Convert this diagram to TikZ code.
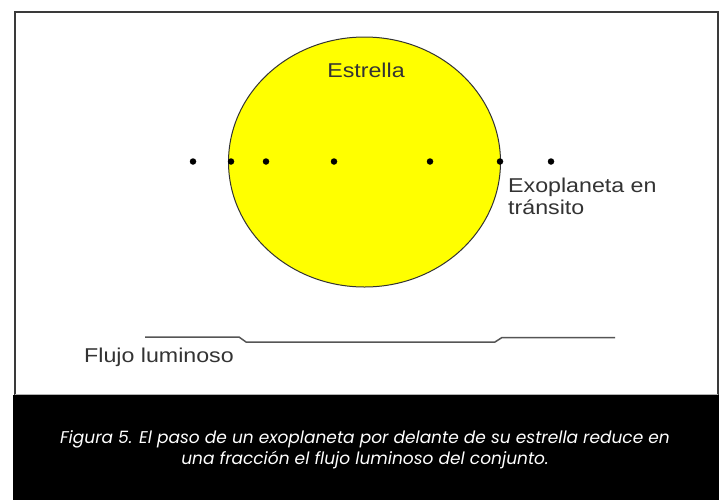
\documentclass[tikz,border=0pt]{standalone}
\usepackage{fontspec}
\setmainfont{Liberation Sans}
\newfontfamily\capfont{Poppins}
\definecolor{labelgray}{HTML}{333333}
\definecolor{framegray}{HTML}{3A3A3A}
\definecolor{fluxgray}{HTML}{555555}
\definecolor{staryellow}{RGB}{255,255,0}
\begin{document}
\begin{tikzpicture}[x=1pt,y=-1pt,
  lbl/.style={inner sep=0pt,text=labelgray,font=\fontsize{20}{22}\selectfont},
  planet/.style={circle,fill=black,inner sep=0pt,minimum size=6.5pt},
  captext/.style={inner sep=0pt,text=white,font=\capfont\itshape\fontsize{17}{21}\selectfont}]
\useasboundingbox (0,0) rectangle (725,501);
\fill[white] (0,0) rectangle (725,501);
% frame
\draw[framegray,line width=2pt] (15,395) -- (15,12) -- (717.5,12) -- (717.5,395);
\draw[gray!60,line width=0.8pt] (15,394.5) -- (717.5,394.5);
% caption band
\fill[black] (13,395) rectangle (719,500);
% star
\draw[fill=staryellow,draw=labelgray,line width=1pt] (364.5,162) ellipse [x radius=136, y radius=125];
\node[lbl,anchor=base] (star) at (366,77) {\scalebox{1.16}[1]{Estrella}};
% planet positions
\foreach \px [count=\i] in {193,231,266,334,430,500,551}
  \node[planet] (p\i) at (\px,161.5) {};
\node[lbl,anchor=base west] (ex1) at (508,192) {\scalebox{1.16}[1]{Exoplaneta en}};
\node[lbl,anchor=base west] (ex2) at (508,214) {\scalebox{1.16}[1]{tránsito}};
% flux curve
\coordinate (f0) at (145,337);
\coordinate (f1) at (239,337);
\coordinate (f2) at (246,342);
\coordinate (f3) at (495,342);
\coordinate (f4) at (502,337.5);
\coordinate (f5) at (615,337.5);
\draw[fluxgray,line width=1.5pt] (f0) -- (f1) -- (f2) -- (f3) -- (f4) -- (f5);
\node[lbl,anchor=base west] (flux) at (84,362) {\scalebox{1.16}[1]{Flujo luminoso}};
% caption
\node[captext,anchor=base] (cap1) at (365,443) {Figura 5. El paso de un exoplaneta por delante de su estrella reduce en};
\node[captext,anchor=base] (cap2) at (365,464) {una fracción el flujo luminoso del conjunto.};
\end{tikzpicture}
\end{document}
